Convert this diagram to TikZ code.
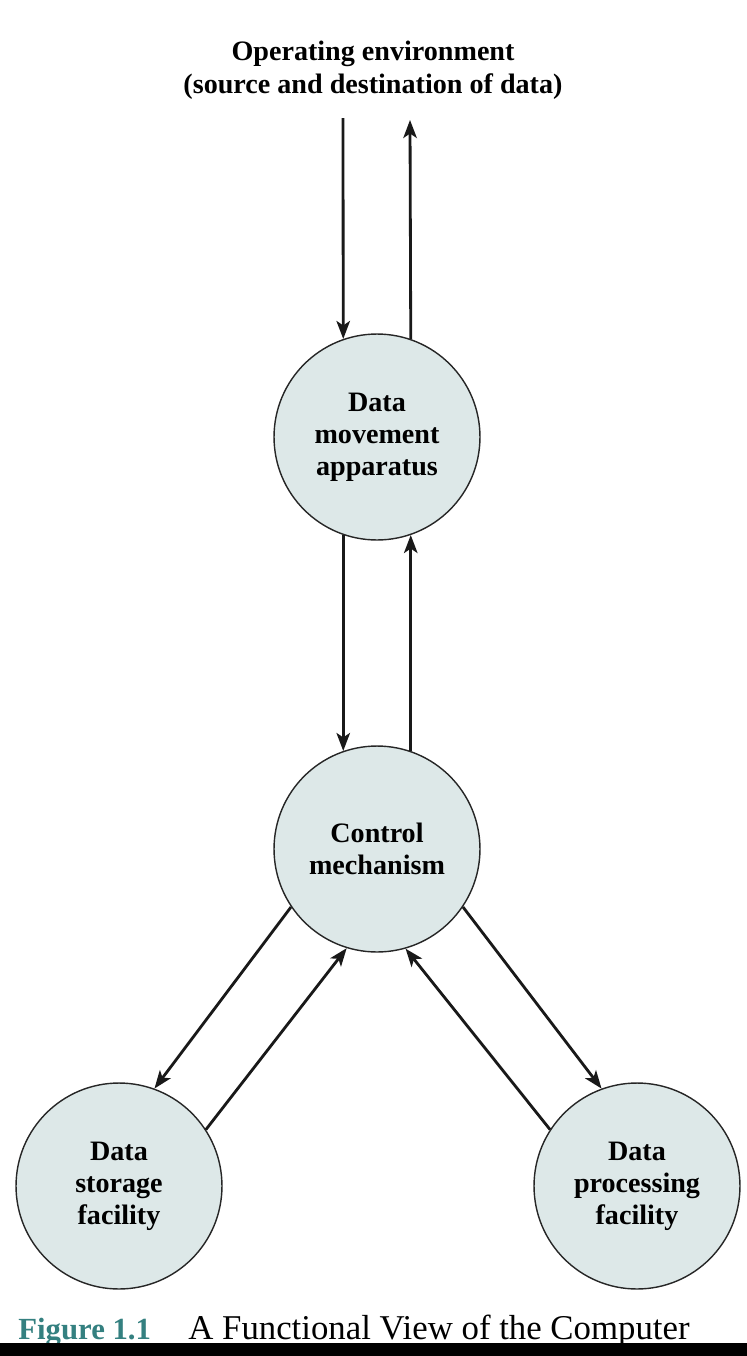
\documentclass[tikz,border=0pt]{standalone}
\usepackage{fontspec}
\setmainfont{Liberation Serif}
\usetikzlibrary{arrows.meta, positioning}
\definecolor{unitfill}{RGB}{221,232,232}
\definecolor{figteal}{RGB}{52,128,128}
\tikzset{every node/.style={inner sep=0pt}}

\begin{document}
\begin{tikzpicture}[x=0.02cm, y=-0.02cm,
    unit/.style={circle, draw=black!85, line width=0.8pt, fill=unitfill,
        minimum size=4.12cm, align=center, font=\bfseries\fontsize{16}{18.2}\selectfont},
    flow/.style={-{Stealth[length=3.6mm, width=2.7mm, inset=0.9mm]}, line width=1.6pt, black!90}]

    \useasboundingbox (0,0) rectangle (747,1356);

    % Units
    \node (env) [align=center, font=\bfseries\fontsize{16}{18.7}\selectfont] at (373,70)
        {Operating environment\\(source and destination of data)};
    \node[unit] (move) at (377,437) {Data\\movement\\apparatus};
    \node[unit] (ctrl) at (377,849) {Control\\mechanism};
    \node[unit] (store) at (119,1186) {Data\\storage\\facility};
    \node[unit] (proc) at (637,1186) {Data\\processing\\facility};

    \coordinate (envin) at (343,118);
    \coordinate (envout) at (410,120);

    % Flows
    \draw[flow] (envin) -- (move.109);
    \draw[flow] (move.71) -- (envout);
    \draw[flow] (move.251) -- (ctrl.109);
    \draw[flow] (ctrl.71) -- (move.289);
    \draw[flow] (ctrl.214) -- (store.70);
    \draw[flow] (store.33) -- (ctrl.253.5);
    \draw[flow] (ctrl.326) -- (proc.110);
    \draw[flow] (proc.147) -- (ctrl.286.5);

    % Caption
    \node (fignum) [anchor=base west, text=figteal, font=\bfseries\fontsize{17.5}{20}\selectfont]
        at (18,1339) {Figure 1.1};
    \node (figtitle) [anchor=base west, font=\fontsize{19.8}{22}\selectfont]
        at (188,1339) {A Functional View of the Computer};
    \fill[black] (0,1343) rectangle (747,1356);

\end{tikzpicture}
\end{document}
